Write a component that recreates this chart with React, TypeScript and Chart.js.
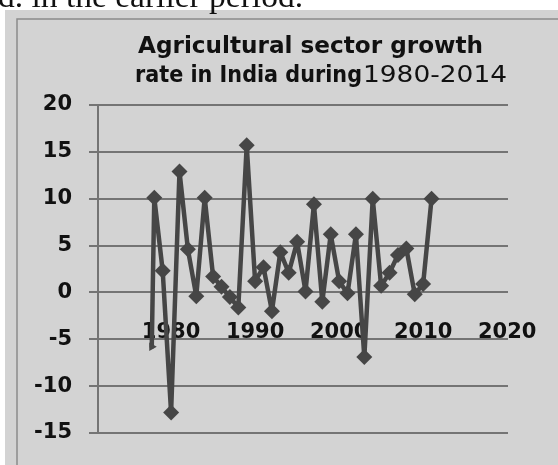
import React, { useEffect, useRef } from "react";
import { Chart, registerables } from "chart.js";

Chart.register(...registerables);

// ---- data ----
const years = [
  1977.7, 1978, 1979, 1980, 1981, 1982, 1983, 1984, 1985, 1986, 1987, 1988,
  1989, 1990, 1991, 1992, 1993, 1994, 1995, 1996, 1997, 1998, 1999, 2000,
  2001, 2002, 2003, 2004, 2005, 2006, 2007, 2008, 2009, 2010, 2011,
];
const growth = [
  -5.8, 10.1, 2.3, -12.8, 12.9, 4.6, -0.4, 10.1, 1.7, 0.6, -0.5, -1.6,
  15.7, 1.2, 2.7, -2.0, 4.3, 2.1, 5.4, 0.1, 9.4, -1.0, 6.2, 1.2,
  -0.1, 6.2, -6.9, 10.0, 0.7, 2.1, 4.0, 4.7, -0.2, 0.9, 10.0,
];
const xTickValues = [1980, 1990, 2000, 2010, 2020];
const yTickValues = [-15, -10, -5, 0, 5, 10, 15, 20];

const captionText = "d. in the earlier period.";
const titleLine1 = "Agricultural sector growth";
const titleLine2Bold = "rate in India during";
const titleLine2Regular = "1980-2014";

function fitText(
  ctx: CanvasRenderingContext2D,
  text: string,
  font: string,
  x: number,
  y: number,
  width: number,
  color: string
) {
  ctx.save();
  ctx.font = font;
  ctx.fillStyle = color;
  ctx.textBaseline = "alphabetic";
  ctx.textAlign = "left";
  const w = ctx.measureText(text).width || 1;
  ctx.translate(x, y);
  ctx.scale(width / w, 1);
  ctx.fillText(text, 0, 0);
  ctx.restore();
}

const backdropPlugin = {
  id: "backdrop",
  beforeDraw(chart: any) {
    const ctx = chart.ctx as CanvasRenderingContext2D;
    const W = chart.width;
    const H = chart.height;
    ctx.save();
    ctx.fillStyle = "#ffffff";
    ctx.fillRect(0, 0, W, H);
    ctx.fillStyle = "#d3d3d3";
    ctx.fillRect(5, 10, W - 5, H - 10);
    ctx.strokeStyle = "#8c8c8c";
    ctx.lineWidth = 1.5;
    ctx.beginPath();
    ctx.moveTo(17, H + 5);
    ctx.lineTo(17, 19);
    ctx.lineTo(W + 5, 19);
    ctx.stroke();
    ctx.restore();

    fitText(ctx, captionText, '32px "Liberation Serif"', -2, 7, 305, "#111111");
    fitText(ctx, titleLine1, 'bold 23px "DejaVu Sans"', 138, 53, 345, "#111111");
    fitText(ctx, titleLine2Bold, 'bold 23px "DejaVu Sans"', 135, 82, 227, "#111111");
    fitText(ctx, titleLine2Regular, '23px "DejaVu Sans"', 363, 82, 144, "#111111");
  },
};

export default function App() {
  const canvasRef = useRef<HTMLCanvasElement | null>(null);

  useEffect(() => {
    const canvas = canvasRef.current;
    if (!canvas) return;
    const points = years.map((x, i) => ({ x, y: growth[i] }));
    const lineColor = "#464646";
    const gridColor = "#747474";

    const chart = new Chart(canvas, {
      type: "scatter",
      data: {
        datasets: [
          {
            data: points,
            showLine: true,
            borderColor: lineColor,
            backgroundColor: lineColor,
            borderWidth: 4.5,
            borderJoinStyle: "round",
            borderCapStyle: "round",
            pointStyle: (c: any) => (c.dataIndex === 0 ? "triangle" : "rectRot"),
            pointRotation: (c: any) => (c.dataIndex === 0 ? 90 : 0),
            pointRadius: (c: any) => (c.dataIndex === 0 ? 5 : 8),
            pointBorderWidth: 0,
            pointHoverRadius: 8,
            tension: 0,
          } as any,
        ],
      },
      options: {
        animation: false,
        responsive: false,
        maintainAspectRatio: false,
        events: [],
        layout: { padding: { left: 0, top: 105, right: 50, bottom: 32 } },
        plugins: {
          legend: { display: false },
          title: { display: false },
          tooltip: { enabled: false },
        },
        scales: {
          x: {
            type: "linear",
            position: { y: 0 } as any,
            min: 1971.3,
            max: 2020.1,
            grid: { display: false, drawTicks: false, tickLength: 0 },
            border: { display: false },
            afterBuildTicks: (scale: any) => {
              scale.ticks = xTickValues.map((v) => ({ value: v }));
            },
            afterFit: (scale: any) => {
              scale.paddingLeft = 0;
              scale.paddingRight = 0;
            },
            ticks: {
              autoSkip: false,
              maxRotation: 0,
              padding: 28,
              color: "#111111",
              font: { family: "DejaVu Sans", size: 21, weight: "bold" },
              callback: (v: any) => String(v),
            },
          },
          y: {
            type: "linear",
            min: -15,
            max: 20,
            afterFit: (scale: any) => {
              scale.width = 98;
            },
            afterBuildTicks: (scale: any) => {
              scale.ticks = yTickValues.map((v) => ({ value: v }));
            },
            grid: {
              color: gridColor,
              lineWidth: 2,
              drawTicks: true,
              tickLength: 9,
            },
            border: { display: true, color: gridColor, width: 2 },
            ticks: {
              padding: 17,
              color: "#111111",
              font: { family: "DejaVu Sans", size: 21, weight: "bold" },
              callback: (v: any) => String(v),
            },
          },
        },
      },
      plugins: [backdropPlugin],
    } as any);

    return () => chart.destroy();
  }, []);

  return (
    <div style={{ position: "absolute", left: 0, top: 0, width: 558, height: 465 }}>
      <canvas ref={canvasRef} width={558} height={465} />
    </div>
  );
}
